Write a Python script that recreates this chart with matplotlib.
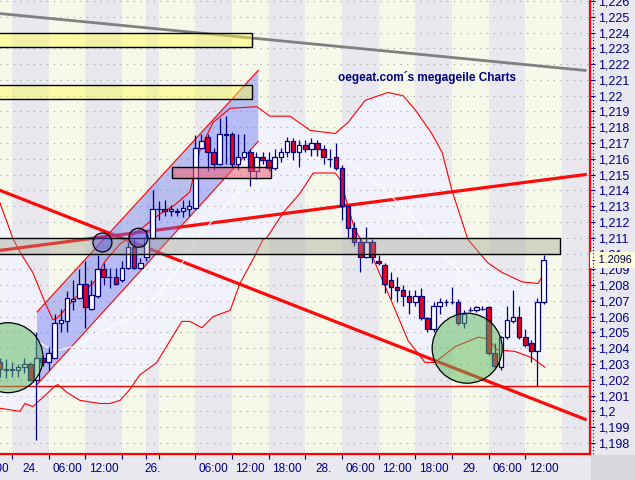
import matplotlib.pyplot as plt
import matplotlib.transforms as mtransforms
from matplotlib.patches import Rectangle, Ellipse, Polygon
from matplotlib.lines import Line2D

plt.rcParams['font.family'] = ['Liberation Sans', 'DejaVu Sans']

# hourly candles, hour 0 = 24. 00:00 (weekend squeezed out)
hours = list(range(-2, 88))
opens = [1.2031, 1.2026, 1.2027, 1.2026, 1.2028, 1.2030, 1.2020, 1.2034, 1.2031, 1.2034,
         1.2056, 1.2057, 1.2070, 1.2072, 1.2081, 1.2065, 1.2073, 1.2090, 1.2085, 1.2085,
         1.2083, 1.2091, 1.2104, 1.2091, 1.2098, 1.2110, 1.2128, 1.2128, 1.2127, 1.2127,
         1.2127, 1.2128, 1.2129, 1.2167, 1.2174, 1.2164, 1.2157, 1.2176, 1.2176, 1.2157,
         1.2161, 1.2164, 1.2152, 1.2161, 1.2159, 1.2154, 1.2161, 1.2164, 1.2171, 1.2164,
         1.2169, 1.2166, 1.2170, 1.2166, 1.2160, 1.2161, 1.2154, 1.2130, 1.2116, 1.2107,
         1.2098, 1.2107, 1.2095, 1.2093, 1.2083, 1.2079, 1.2077, 1.2073, 1.2069, 1.2073,
         1.2059, 1.2052, 1.2067, 1.2069, 1.2069, 1.2069, 1.2056, 1.2064, 1.2064, 1.2065,
         1.2066, 1.2037, 1.2028, 1.2047, 1.2057, 1.2060, 1.2047, 1.2043, 1.2038, 1.2069]
highs = [1.2034, 1.2033, 1.2031, 1.2030, 1.2034, 1.2031, 1.2050, 1.2035, 1.2041, 1.2062,
         1.2065, 1.2076, 1.2083, 1.2090, 1.2095, 1.2083, 1.2099, 1.2094, 1.2091, 1.2091,
         1.2095, 1.2107, 1.2109, 1.2097, 1.2115, 1.2140, 1.2133, 1.2134, 1.2131, 1.2129,
         1.2134, 1.2134, 1.2175, 1.2176, 1.2176, 1.2167, 1.2186, 1.2187, 1.2177, 1.2176,
         1.2176, 1.2166, 1.2164, 1.2164, 1.2164, 1.2166, 1.2167, 1.2174, 1.2173, 1.2172,
         1.2172, 1.2173, 1.2172, 1.2169, 1.2166, 1.2170, 1.2156, 1.2131, 1.2120, 1.2110,
         1.2117, 1.2109, 1.2099, 1.2094, 1.2088, 1.2085, 1.2080, 1.2077, 1.2077, 1.2078,
         1.2060, 1.2069, 1.2072, 1.2071, 1.2079, 1.2071, 1.2064, 1.2066, 1.2067, 1.2067,
         1.2067, 1.2043, 1.2048, 1.2067, 1.2077, 1.2067, 1.2052, 1.2045, 1.2072, 1.2099]
lows = [1.2022, 1.2021, 1.2022, 1.2022, 1.2024, 1.2019, 1.1982, 1.2029, 1.2026, 1.2034,
        1.2050, 1.2050, 1.2064, 1.2071, 1.2053, 1.2064, 1.2072, 1.2080, 1.2078, 1.2080,
        1.2082, 1.2090, 1.2090, 1.2090, 1.2095, 1.2109, 1.2121, 1.2124, 1.2124, 1.2124,
        1.2123, 1.2124, 1.2128, 1.2166, 1.2152, 1.2153, 1.2156, 1.2157, 1.2155, 1.2153,
        1.2159, 1.2143, 1.2147, 1.2157, 1.2152, 1.2153, 1.2158, 1.2161, 1.2159, 1.2155,
        1.2164, 1.2162, 1.2162, 1.2157, 1.2155, 1.2153, 1.2121, 1.2110, 1.2105, 1.2088,
        1.2097, 1.2094, 1.2093, 1.2075, 1.2071, 1.2069, 1.2067, 1.2062, 1.2067, 1.2058,
        1.2050, 1.2050, 1.2062, 1.2067, 1.2068, 1.2055, 1.2053, 1.2063, 1.2063, 1.2064,
        1.2036, 1.2027, 1.2026, 1.2046, 1.2056, 1.2046, 1.2041, 1.2031, 1.2016, 1.2068]
closes = [1.2027, 1.2027, 1.2026, 1.2028, 1.2030, 1.2020, 1.2034, 1.2031, 1.2037, 1.2056,
          1.2058, 1.2072, 1.2071, 1.2081, 1.2066, 1.2074, 1.2090, 1.2085, 1.2085, 1.2081,
          1.2091, 1.2104, 1.2091, 1.2094, 1.2110, 1.2128, 1.2128, 1.2127, 1.2128, 1.2126,
          1.2129, 1.2130, 1.2167, 1.2171, 1.2164, 1.2157, 1.2176, 1.2175, 1.2157, 1.2161,
          1.2164, 1.2152, 1.2161, 1.2159, 1.2154, 1.2161, 1.2164, 1.2171, 1.2164, 1.2169,
          1.2166, 1.2170, 1.2166, 1.2161, 1.2160, 1.2154, 1.2130, 1.2116, 1.2107, 1.2098,
          1.2107, 1.2098, 1.2094, 1.2081, 1.2079, 1.2077, 1.2073, 1.2069, 1.2073, 1.2059,
          1.2052, 1.2067, 1.2069, 1.2069, 1.2069, 1.2056, 1.2062, 1.2064, 1.2066, 1.2065,
          1.2037, 1.2029, 1.2047, 1.2058, 1.2060, 1.2047, 1.2042, 1.2038, 1.2069, 1.2096]

# bollinger bands
bb_up_t = [-1.96, 0.2, 1.6, 3.4, 5.4, 6.7, 7.4, 9.0, 11.1, 13.3, 15.2, 17.7, 20.9, 24.2, 26.7,
           29.1, 30.8, 32.9, 35.7, 40.1, 42.2, 45.5, 48.8, 52.9, 55.0, 57.8, 61.5, 64.0, 66.0,
           68.7, 70.4, 72.0, 73.6, 74.6, 77.9, 80.2, 83.5, 86.1, 87.2]
bb_up = [1.2132, 1.2109, 1.2099, 1.2088, 1.2069, 1.2058, 1.2059, 1.2066, 1.2075, 1.2081,
         1.2095, 1.2106, 1.2115, 1.2125, 1.2131, 1.2139, 1.2166, 1.2183, 1.2192, 1.2193,
         1.2187, 1.2187, 1.2178, 1.2176, 1.2183, 1.2197, 1.2202, 1.2200, 1.2191, 1.2176,
         1.2164, 1.2140, 1.2121, 1.2109, 1.2094, 1.2088, 1.2082, 1.2081, 1.2088]
bb_lo_t = [-1.96, 1.3, 2.1, 3.4, 5.1, 7.0, 7.5, 9.0, 11.1, 14.4, 16.0, 17.7, 19.3, 20.9, 23.7,
           25.9, 27.8, 29.1, 31.1, 32.9, 35.7, 37.3, 39.4, 41.1, 41.7, 44.4, 47.1, 49.3, 52.9,
           53.7, 55.0, 56.1, 59.1, 62.2, 64.8, 67.6, 69.2, 72.5, 76.3, 77.9, 79.4, 82.3, 85.1, 87.2]
bb_lo = [1.2002, 1.2000, 1.2005, 1.2003, 1.2009, 1.2016, 1.2017, 1.2012, 1.2007, 1.2005,
         1.2005, 1.2007, 1.2014, 1.2023, 1.2031, 1.2045, 1.2057, 1.2057, 1.2053, 1.2060,
         1.2064, 1.2081, 1.2096, 1.2109, 1.2110, 1.2126, 1.2138, 1.2151, 1.2151, 1.2147,
         1.2130, 1.2115, 1.2097, 1.2069, 1.2045, 1.2031, 1.2031, 1.2041, 1.2047, 1.2046,
         1.2039, 1.2038, 1.2034, 1.2028]
bb_mid_t = [-1.96, 1.3, 3.4, 6.7, 10.0, 14.4, 19.8, 24.2, 28.6, 30.8, 36.2, 41.7, 47.1, 54.0,
            60.6, 66.0, 68.1, 71.4, 75.8, 79.5, 83.5, 87.2]
bb_mid = [1.2054, 1.2053, 1.2047, 1.2038, 1.2041, 1.2050, 1.2060, 1.2075, 1.2098, 1.2112,
          1.2136, 1.2152, 1.2161, 1.2161, 1.2142, 1.2121, 1.2109, 1.2096, 1.2079, 1.2066,
          1.2060, 1.2058]

# drawn objects (hour, price)
gray_line_t = [-1.96, 93.8]
gray_line_p = [1.2252, 1.2216]
down_line_t = [-1.96, 93.8]
down_line_p = [1.2140, 1.1995]
up_line_t = [-1.96, 93.8]
up_line_p = [1.2102, 1.2150]
support = 1.2016
channel = [(4.1, 1.2063), (40.3, 1.2216), (40.3, 1.2171), (4.1, 1.2017)]
yellow_boxes = [(-3, 39.3, 1.2231, 1.2240), (-3, 39.3, 1.2198, 1.2207)]
pink_box = (26.2, 42.4, 1.2148, 1.2155)
gray_box = (-3, 89.7, 1.2100, 1.2110)
green_circles = [(-0.65, 1.2034), (74.5, 1.2040)]
blue_circles = [(14.8, 1.2107), (20.7, 1.2110)]
last_price = 1.2096

stripe_edges = [-6, 0, 6, 12, 18, 22, 24, 30, 36, 42, 48, 54, 60, 66, 72, 78, 84, 90, 100]
tick_hours = [0, 6, 12, 18, 22, 24, 30, 36, 42, 48, 54, 60, 66, 72, 78, 84]
label_hours = [-3, 3, 9, 15, 23, 33, 39, 45, 51, 57, 63, 69, 75, 81, 87]
label_text = ['18:00', '24.', '06:00', '12:00', '26.', '06:00', '12:00', '18:00',
              '28.', '06:00', '12:00', '18:00', '29.', '06:00', '12:00']
price_levels = [1.198 + 0.001 * i for i in range(29)]

navy = '#000080'
fig = plt.figure(figsize=(6.35, 4.8), dpi=100, facecolor='#e8e8ee')
ax = fig.add_axes([0, 26 / 480, 590 / 635, 454 / 480])
ax.set_xlim(-1.964, 94.6)
ax.set_ylim(1.1973, 1.22606)

for i in range(len(stripe_edges) - 1):
    col = '#f6f8ea' if i % 2 == 0 else '#e8e8ee'
    ax.axvspan(stripe_edges[i], stripe_edges[i + 1], color=col, lw=0, zorder=0)

ax.fill(bb_up_t + bb_lo_t[::-1], bb_up + bb_lo[::-1], color='#f2f3ff', alpha=0.85, lw=0, zorder=0.5)
ax.set_yticks(price_levels)
ax.grid(axis='y', linestyle=(0, (1, 5)), color='#a0a0a0', lw=0.8, zorder=1)

ax.plot(gray_line_t, gray_line_p, color='#808080', lw=2, zorder=2)
ax.plot(down_line_t, down_line_p, color='#ff0a0a', lw=2.3, zorder=2)
ax.plot(up_line_t, up_line_p, color='#ff0a0a', lw=2.3, zorder=2)

ax.add_patch(Polygon(channel, closed=True, fc='#6670f0', alpha=0.42, lw=0, zorder=2.5))
ax.plot([channel[0][0], channel[1][0]], [channel[0][1], channel[1][1]], color='red', lw=0.8, zorder=2.6)
ax.plot([channel[3][0], channel[2][0]], [channel[3][1], channel[2][1]], color='red', lw=0.8, zorder=2.6)

ax.plot(bb_up_t, bb_up, color='red', lw=0.8, zorder=3)
ax.plot(bb_lo_t, bb_lo, color='red', lw=0.8, zorder=3)
ax.plot(bb_mid_t, bb_mid, color='white', lw=0.8, zorder=3)
ax.axhline(support, color='red', lw=1, zorder=3)

# candles
ax.vlines(hours, lows, highs, color=navy, lw=0.9, zorder=4)
for h, o, c in zip(hours, opens, closes):
    fc = 'white' if c >= o else '#e8001c'
    ax.bar(h, abs(c - o), bottom=min(o, c), width=0.75, color=fc, edgecolor=navy, lw=0.9, zorder=4.5)

for t0, t1, p0, p1 in yellow_boxes:
    ax.add_patch(Rectangle((t0, p0), t1 - t0, p1 - p0, fc='#ffff50', alpha=0.45, ec='none', zorder=5))
    ax.add_patch(Rectangle((t0, p0), t1 - t0, p1 - p0, fill=False, ec='black', lw=1, zorder=5))
t0, t1, p0, p1 = pink_box
ax.add_patch(Rectangle((t0, p0), t1 - t0, p1 - p0, fc='#f06070', alpha=0.55, ec='none', zorder=5))
ax.add_patch(Rectangle((t0, p0), t1 - t0, p1 - p0, fill=False, ec='black', lw=1, zorder=5))
t0, t1, p0, p1 = gray_box
ax.add_patch(Rectangle((t0, p0), t1 - t0, p1 - p0, fc='#9c9c88', alpha=0.38, ec='none', zorder=5))
ax.add_patch(Rectangle((t0, p0), t1 - t0, p1 - p0, fill=False, ec='black', lw=1, zorder=5))

for t, p in green_circles:
    ax.add_patch(Ellipse((t, p), 11.46, 0.00443, fc='#5cb85c', alpha=0.5, ec='none', zorder=6))
    ax.add_patch(Ellipse((t, p), 11.46, 0.00443, fill=False, ec='black', lw=0.9, zorder=6))
for t, p in blue_circles:
    ax.add_patch(Ellipse((t, p), 3.1, 0.0012, fc='#5a5ae8', alpha=0.45, ec='none', zorder=6))
    ax.add_patch(Ellipse((t, p), 3.1, 0.0012, fill=False, ec='black', lw=0.9, zorder=6))

ax.text(0.7237, 0.8282, 'oegeat.com\u00b4s megageile Charts', transform=ax.transAxes,
        ha='center', va='center', color=navy, fontsize=8.5, fontweight='bold', zorder=7)

# axes
for s in ['left', 'top']:
    ax.spines[s].set_visible(False)
for s in ['right', 'bottom']:
    ax.spines[s].set_color('red')
    ax.spines[s].set_linewidth(1.6)
ax.yaxis.tick_right()
ax.set_yticklabels([('%.3f' % v).rstrip('0').rstrip('.').replace('.', ',') for v in price_levels])
ax.tick_params(axis='y', direction='out', length=3.6, width=0.8, pad=2.2, colors=navy, labelsize=9)
ax.set_xticks(tick_hours)
ax.set_xticklabels([])
ax.tick_params(axis='x', direction='out', length=3.6, width=0.8, colors=navy)
trans = mtransforms.blended_transform_factory(ax.transData, ax.transAxes)
for h, txt in zip(label_hours, label_text):
    ax.text(h, -0.033, txt, transform=trans, ha='center', va='center', color=navy,
            fontsize=8.5, clip_on=False)

trans_y = mtransforms.blended_transform_factory(ax.transAxes, ax.transData)
ax.text(1.004, last_price, '- 1.2096', transform=trans_y, ha='left', va='center', color='#000040',
        fontsize=7.8, zorder=10, clip_on=False,
        bbox=dict(boxstyle='square,pad=0.25', fc='#ffffe0', ec='none'))

fig.add_artist(Line2D([593 / 635, 593 / 635], [26 / 480, 1], transform=fig.transFigure,
                      color=navy, lw=0.8, linestyle=(0, (1, 2))))
fig.add_artist(Rectangle((591 / 635, 0), 44 / 635, 25 / 480, transform=fig.transFigure,
                         fc='#d8d8dc', ec='none'))

fig.savefig('out.png', dpi=100, facecolor=fig.get_facecolor())
